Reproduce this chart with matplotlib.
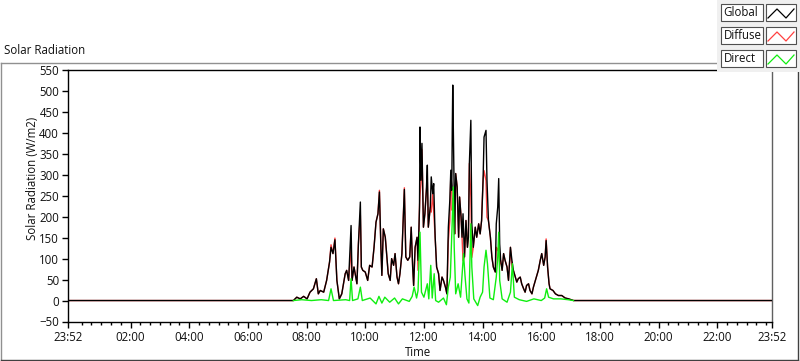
import matplotlib
matplotlib.use('Agg')
import matplotlib.pyplot as plt
from matplotlib.patches import Rectangle
from matplotlib.lines import Line2D

# time in minutes of the day (23:52 of previous day = -8)
global_t = [-8, 453, 460, 467, 474, 481, 487, 494, 500, 504,
            508, 515, 521, 527, 530, 534, 538, 542, 547, 552,
            559, 562, 566, 571, 573, 577, 583, 586, 590, 592,
            595, 600, 605, 609, 614, 618, 622, 626, 629, 632,
            634, 637, 641, 644, 647, 651, 654, 658, 661, 665,
            668, 671, 675, 678, 680, 683, 687, 691, 694, 697,
            699, 702, 706, 708, 711, 712, 714, 716, 719, 722,
            725, 727, 729, 733, 735, 738, 740, 743, 746, 750,
            753, 757, 760, 764, 767, 770, 773, 775, 777, 778,
            779, 781, 783, 785, 788, 791, 793, 796, 798, 800,
            803, 806, 809, 811, 813, 816, 818, 821, 825, 828,
            832, 835, 838, 841, 843, 847, 849, 852, 856, 859,
            862, 866, 868, 871, 873, 875, 877, 880, 883, 886,
            890, 893, 897, 900, 903, 907, 910, 913, 917, 920,
            924, 927, 930, 934, 937, 941, 944, 948, 951, 954,
            958, 961, 965, 968, 970, 973, 976, 978, 984, 989,
            995, 1002, 1009, 1016, 1026, 1432]

global_v = [0, 0, 8, 4, 10, 4, 20, 28, 52, 16,
            24, 20, 48, 92, 127, 112, 145, 48, 4, 16,
            64, 72, 48, 179, 48, 80, 40, 135, 235, 80,
            72, 68, 48, 84, 80, 127, 187, 207, 259, 127,
            60, 171, 151, 108, 64, 48, 100, 84, 112, 56,
            40, 64, 112, 207, 265, 104, 96, 104, 175, 80,
            36, 127, 151, 96, 223, 414, 287, 375, 175, 207,
            263, 323, 175, 223, 295, 255, 279, 151, 80, 64,
            24, 56, 48, 32, 16, 175, 239, 311, 263, 406,
            514, 343, 159, 303, 271, 151, 247, 199, 151, 207,
            104, 191, 127, 151, 327, 430, 183, 127, 175, 151,
            183, 159, 191, 287, 390, 406, 287, 191, 151, 104,
            80, 68, 183, 223, 291, 135, 96, 72, 112, 96,
            80, 48, 127, 96, 72, 56, 44, 52, 56, 40,
            28, 20, 36, 40, 24, 16, 32, 48, 60, 72,
            96, 112, 84, 104, 143, 80, 40, 28, 24, 16,
            12, 12, 6, 4, 0, 0]

diffuse_v = [0, 0, 8, 4, 10, 4, 20, 28, 52, 16,
             24, 20, 48, 92, 133, 112, 149, 48, 4, 16,
             64, 72, 48, 127, 48, 80, 40, 135, 203, 80,
             72, 68, 48, 84, 80, 127, 187, 207, 263, 127,
             60, 171, 151, 108, 64, 48, 100, 84, 112, 56,
             40, 64, 112, 207, 269, 104, 96, 104, 175, 80,
             36, 127, 151, 72, 223, 251, 280, 360, 175, 207,
             263, 283, 175, 223, 211, 255, 215, 151, 80, 64,
             24, 56, 48, 32, 16, 143, 190, 300, 263, 215,
             243, 216, 159, 303, 271, 151, 247, 199, 151, 95,
             104, 191, 127, 151, 327, 247, 103, 127, 175, 151,
             183, 159, 191, 287, 310, 286, 199, 191, 151, 104,
             80, 68, 127, 119, 128, 87, 96, 72, 112, 96,
             80, 48, 127, 80, 72, 56, 44, 52, 56, 40,
             28, 20, 36, 40, 24, 16, 32, 48, 60, 72,
             96, 112, 84, 104, 147, 80, 40, 28, 24, 16,
             12, 12, 6, 4, 0, 0]

# direct sensor only logs during daylight
direct_t = [453, 470, 490, 510, 525, 530, 535, 560, 568,
            571, 574, 585, 590, 594, 610, 622, 628, 634, 640,
            650, 660, 668, 676, 690, 696, 700, 705, 708, 712,
            715, 720, 727, 730, 734, 737, 741, 744, 750, 760,
            766, 770, 774, 778, 780, 782, 785, 790, 795, 801,
            804, 808, 812, 816, 818, 822, 830, 835, 840, 843,
            847, 850, 855, 862, 868, 871, 873, 875, 880, 890,
            897, 901, 905, 915, 930, 945, 960, 967, 971, 975,
            985, 1000, 1015, 1026]

direct_v = [0, 2, 0, 2, 0, 28, 0, 2, 0,
            52, 0, 4, 32, 0, 6, -8, 10, -6, 8,
            -4, 6, -8, 4, -2, 10, 32, 6, 24, 163,
            20, 8, 40, 4, 84, 6, 64, 0, -4, 6,
            -10, 32, 56, 191, 271, 127, 16, 40, 8, 112,
            60, 4, -6, 183, 80, 4, -12, 8, 20, 80,
            120, 88, 6, 2, 56, 104, 163, 48, 4, -4,
            20, 88, 8, 2, -2, 4, 0, 6, 28, 8,
            4, 4, 2, 0]

x_ticks = [-8, 120, 240, 360, 480, 600, 720, 840, 960, 1080, 1200, 1320, 1432]
x_labels = ['23:52', '02:00', '04:00', '06:00', '08:00', '10:00', '12:00',
            '14:00', '16:00', '18:00', '20:00', '22:00', '23:52']
y_ticks = [-50, 0, 50, 100, 150, 200, 250, 300, 350, 400, 450, 500, 550]

legend_names = ['Global', 'Diffuse', 'Direct']
legend_colors = ['black', '#ff4040', '#10ee10']

plt.rcParams['font.family'] = ['Open Sans', 'DejaVu Sans']
W, H = 800, 361


def px(x, y):
    return x / W, 1 - y / H


fig = plt.figure(figsize=(8, 3.61), dpi=100)
ax = fig.add_axes([68 / W, 1 - 321.5 / H, (772 - 68) / W, (321.5 - 70) / H])

ax.plot(global_t, diffuse_v, color=legend_colors[1], lw=1.0, zorder=2)
ax.plot(global_t, global_v, color=legend_colors[0], lw=1.0, zorder=3)
ax.plot(direct_t, direct_v, color=legend_colors[2], lw=1.0, zorder=4)

ax.set_xlim(-8, 1432)
ax.set_ylim(-50, 550)
ax.set_xticks(x_ticks)
ax.set_xticklabels(x_labels)
ax.set_xticks([m for m in range(0, 1432, 20) if m % 120 != 0], minor=True)
ax.set_yticks(y_ticks)
ax.tick_params(axis='both', which='major', length=4, width=1, pad=2.5,
               labelsize=8.3, labelcolor='#101010')
ax.tick_params(axis='x', which='minor', length=2.5, width=1)
for s in ax.spines.values():
    s.set_linewidth(1)
ax.spines['right'].set_color('#606060')

# outer frame
fig.add_artist(Line2D([px(0.5, 62)[0], px(717, 62)[0]], [px(0, 62.5)[1]] * 2,
                      transform=fig.transFigure, color='#909090', lw=1))
fig.add_artist(Line2D([px(0.5, 0)[0]] * 2, [px(0, 62.5)[1], px(0, 359.5)[1]],
                      transform=fig.transFigure, color='#909090', lw=1))
fig.add_artist(Line2D([px(0.5, 0)[0], px(797.5, 0)[0]], [px(0, 359.5)[1]] * 2,
                      transform=fig.transFigure, color='#404040', lw=1))
fig.add_artist(Line2D([px(797.5, 0)[0]] * 2, [px(0, 62.5)[1], px(0, 359.5)[1]],
                      transform=fig.transFigure, color='#404040', lw=1))

fig.text(*px(4, 50), 'Solar Radiation', fontsize=8.3, ha='left', va='center', color='#101010')
fig.text(*px(32, 178), 'Solar Radiation (W/m2)', fontsize=8.3, rotation=90,
         ha='center', va='center', color='#101010')
fig.text(*px(418, 353), 'Time', fontsize=8.3, ha='center', va='center', color='#101010')

# legend panel
fig.add_artist(Rectangle(px(717, 72), 83 / W, 72 / H, transform=fig.transFigure,
                         facecolor='#f0f0f0', edgecolor='none', zorder=5))
for i, (name, col) in enumerate(zip(legend_names, legend_colors)):
    top = 4 + i * 23
    fig.add_artist(Rectangle(px(721, top + 17), 42 / W, 17 / H, transform=fig.transFigure,
                             facecolor='white', edgecolor='#505050', lw=0.8, zorder=6))
    fig.add_artist(Rectangle(px(766, top + 17), 30 / W, 17 / H, transform=fig.transFigure,
                             facecolor='white', edgecolor='#505050', lw=0.8, zorder=6))
    fig.text(*px(723.5, top + 8.5), name, fontsize=8.3, ha='left', va='center',
             color='#101010', zorder=7)
    zx = [768, 777, 786, 794]
    zy = [top + 14, top + 5, top + 14, top + 5]
    fig.add_artist(Line2D([px(a, 0)[0] for a in zx], [px(0, b)[1] for b in zy],
                          transform=fig.transFigure, color=col, lw=0.9, zorder=7))

fig.savefig('out.png', dpi=100)
